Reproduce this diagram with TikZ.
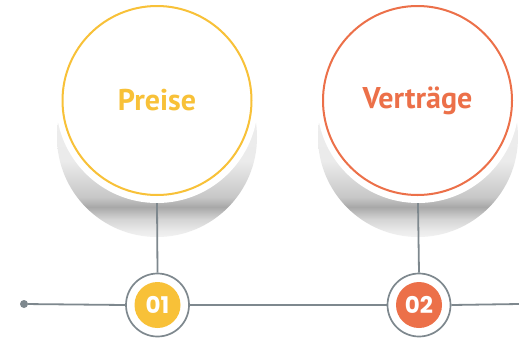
\documentclass[tikz,border=0pt]{standalone}
\usepackage{fontspec}
\setmainfont{PT Sans}
\newfontfamily\numfont{Poppins}
\definecolor{preiscol}{HTML}{F8C138}
\definecolor{vertragcol}{HTML}{EC7049}
\definecolor{linegrey}{HTML}{7E888E}
% shadow tone; the shaded path spans 25bp (bottom) .. 75bp (top):
% light at the bottom edge, darkest just under the disc, light at the sides
\pgfdeclareverticalshading{discshade}{100bp}{
  color(0bp)=(black!5); color(25bp)=(black!5); color(26.5bp)=(black!8);
  color(29.5bp)=(black!17); color(32.5bp)=(black!34); color(35bp)=(black!22);
  color(44bp)=(black!8); color(75bp)=(black!5); color(100bp)=(black!5)}
\tikzset{
  shadowdisc/.style={circle, shading=discshade, minimum size=200pt, inner sep=0pt},
  backdisc/.style={circle, fill=white, minimum size=202pt, inner sep=0pt},
  bigring/.style={circle, draw=#1, line width=2pt, text=#1, minimum size=189pt,
    inner sep=0pt, font=\fontsize{30}{31}\selectfont\bfseries},
  stepring/.style={circle, draw=linegrey, line width=1.7pt, fill=white,
    minimum size=63pt, inner sep=0pt},
  stepdot/.style={circle, fill=#1, minimum size=46pt, inner sep=0pt, text=white,
    font=\numfont\bfseries\fontsize{23}{24}\selectfont},
  connector/.style={draw=linegrey, line width=1.8pt},
}
\begin{document}
\begin{tikzpicture}[x=1pt, y=-1pt]
  \useasboundingbox (0,0) rectangle (519,338);
  \fill[white] (0,0) rectangle (519,338);

  % shadows
  \node[shadowdisc] (h1) at (157,137) {};
  \node[shadowdisc] (h2) at (418,137) {};

  % white backings and rings
  \node[backdisc] (w1) at (157,102) {};
  \node[backdisc] (w2) at (418,102) {};
  \node[bigring=preiscol] (c1) at (157,100.5) {Preise};
  \node[bigring=vertragcol] (c2) at (417.5,100.5) {Verträge};

  % timeline
  \node[circle, fill=linegrey, minimum size=8pt, inner sep=0pt] (start) at (24,304) {};
  \coordinate (end) at (519,304);
  \node[stepring] (s1) at (157.5,305) {};
  \node[stepring] (s2) at (419,305) {};
  \node[stepdot=preiscol] (n1) at (s1) {01};
  \node[stepdot=vertragcol] (n2) at (s2) {02};

  \draw[connector] (start) -- (s1.west);
  \draw[connector] (s1.east) -- (s2.west);
  \draw[connector] (s2.east) -- (end);
  \draw[connector] (w1.south) -- (s1.north);
  \draw[connector] (w2.south) -- (s2.north);
\end{tikzpicture}
\end{document}
